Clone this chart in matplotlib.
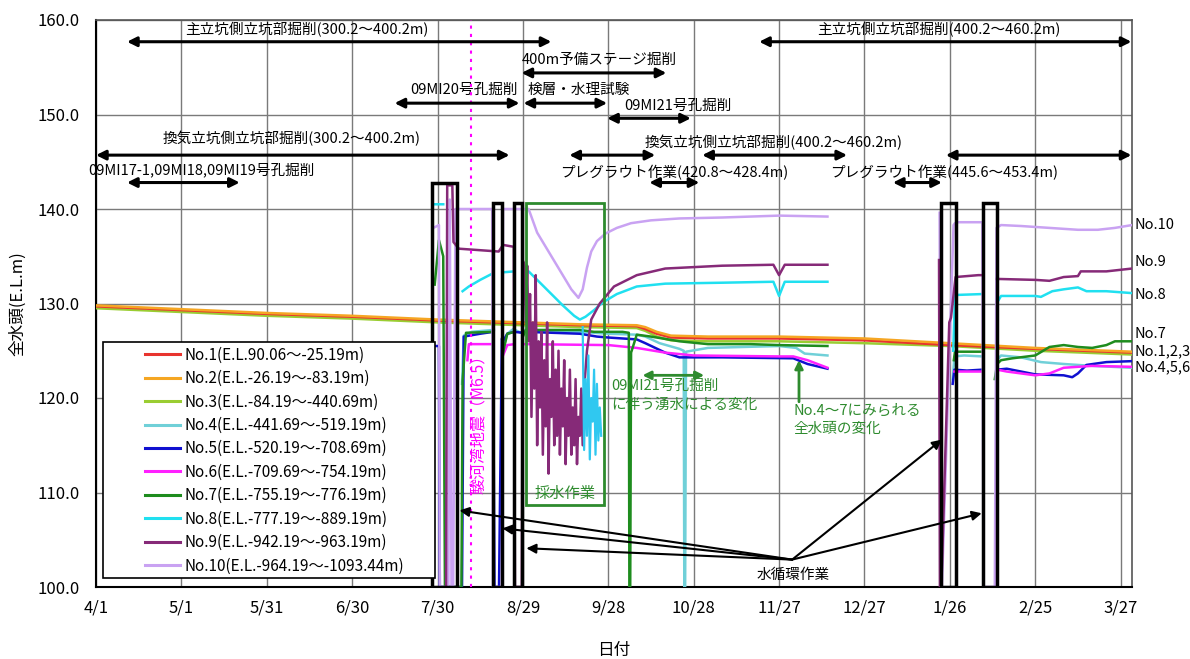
import numpy as np
import matplotlib
matplotlib.use('Agg')
import matplotlib.pyplot as plt
from matplotlib.patches import Rectangle

plt.rcParams['font.family'] = ['Noto Sans CJK JP', 'DejaVu Sans']

# ---------------- data ----------------
tick_days = [0, 30, 60, 90, 120, 150, 180, 210, 240, 270, 300, 330, 360]
tick_labels = ['4/1', '5/1', '5/31', '6/30', '7/30', '8/29', '9/28', '10/28',
               '11/27', '12/27', '1/26', '2/25', '3/27']
y_ticks = [100, 110, 120, 130, 140, 150, 160]

labels = ['No.1(E.L.90.06～-25.19m)', 'No.2(E.L.-26.19～-83.19m)',
          'No.3(E.L.-84.19～-440.69m)', 'No.4(E.L.-441.69～-519.19m)',
          'No.5(E.L.-520.19～-708.69m)', 'No.6(E.L.-709.69～-754.19m)',
          'No.7(E.L.-755.19～-776.19m)', 'No.8(E.L.-777.19～-889.19m)',
          'No.9(E.L.-942.19～-963.19m)', 'No.10(E.L.-964.19～-1093.44m)']
colors = ['#E8342E', '#F5A623', '#9ACD32', '#70D0D8', '#1010D0',
          '#FF20FF', '#1E8C1E', '#20E0F0', '#862A78', '#C9A2F2']

nan = np.nan

shallow_days = [0, 30, 60, 90, 120, 150, 170, 190, 193, 197, 202, 215, 240, 270, 300, 330, 364]
no1_vals = [129.7, 129.3, 128.9, 128.6, 128.2, 127.9, 127.7, 127.6, 127.3, 126.8, 126.4, 126.3, 126.3, 126.1, 125.6, 125.2, 124.8]
no2_vals = [129.8, 129.4, 129.0, 128.7, 128.3, 128.0, 127.8, 127.7, 127.5, 127.0, 126.6, 126.5, 126.5, 126.3, 125.8, 125.3, 124.9]
no3_vals = [129.5, 129.1, 128.7, 128.4, 128.0, 127.7, 127.5, 127.4, 127.1, 126.5, 126.1, 126.0, 126.0, 125.8, 125.5, 125.0, 124.6]

no4_days = [128.6, 129.2, 132, 139.5, 139.8, 142.6, 143.0, 144.5, 146.6, 150.0, 151.0, 170, 180, 190, 193, 198, 205, 206.5, 206.7, 207.0, 207.3, 215, 240, 246, 249, 257,
            nan, 301.0, 301.6, 305, 311.5, nan, 316.6, 318, 325, 332, 340, 350, 364]
no4_vals = [121.5, 126.6, 127.0, 127.2, 127.2, nan, 125.2, 126.8, 127.3, 126.8, 127.2, 127.0, 126.8, 126.7, 126.5, 125.8, 125.2, 125.0, 100.0, 100.0, 124.9, 125.3, 125.5, 125.3, 124.7, 124.5,
            nan, 122.0, 124.4, 124.5, 124.4, nan, 124.0, 124.5, 124.3, 123.8, 123.6, 123.4, 123.2]

no5_days = [118.0, 120.5, 120.8, 128.6, 129.2, 135, 139.5, 140.0, 141.6, 142.6, 143.0, 144.5, 147.0, 150.0, 151.0, 170, 176, 180, 190, 193, 200, 205, 220, 245, 250, 257,
            nan, 301.0, 301.6, 306, 311.5, nan, 316.6, 320, 325, 330, 340, 343, 345, 348, 355, 364]
no5_vals = [125.5, 125.5, 100.0, 100.0, 126.5, 126.8, 127.0, 100.0, 100.0, 126.3, 126.0, 126.8, 127.0, 126.9, 127.0, 126.8, 126.5, 126.4, 126.2, 125.8, 124.8, 124.3, 124.3, 124.2, 123.6, 123.1,
            nan, 121.5, 123.0, 122.9, 123.0, nan, 123.0, 123.1, 122.8, 122.5, 122.4, 122.2, 122.6, 123.5, 123.8, 123.9]

no6_days = [130.5, 131.0, 139.5, nan, 143.0, 144.5, 147.0, nan, 150.0, 180, 190, 200, 210, 240, 245, 250, 257,
            nan, 301.6, 311.5, nan, 316.6, 320, 330, 335, 340, 350, 364]
no6_vals = [124.0, 125.7, 125.7, nan, 124.5, 125.6, 125.7, nan, 125.7, 125.6, 125.3, 124.8, 124.5, 124.4, 124.4, 124.0, 123.2,
            nan, 122.8, 122.8, nan, 123.0, 122.8, 122.4, 122.6, 123.2, 123.4, 123.3]

no7_days = [119.0, 120.5, 122.0, 122.6, 128.4, 128.8, 130.0, 139.5, 139.8, 142.6, 143.0, 144.5, 147.0, 147.2, 149.6, 150.0, 151.0, 170, 175, 185, 187.2, 187.4, 187.7, 188.0, 190, 195, 205, 215, 230, 240, 257,
            nan, 301.4, 301.8, 311.5, nan, 315.8, 316.6, 318, 322, 330, 335, 340, 345, 350, 355, 358, 364]
no7_vals = [132.0, 136.7, 135.0, 100.0, 100.0, 121.8, 126.9, 127.0, nan, nan, 124.8, 126.8, 127.0, nan, nan, 126.5, 127.2, 127.2, 127.0, 127.0, 126.9, 100.0, 100.0, 124.8, 126.7, 126.5, 126.0, 125.7, 125.7, 125.6, 125.5,
            nan, 124.0, 124.9, 124.9, nan, 122.0, 123.6, 124.0, 124.2, 124.5, 125.4, 125.6, 125.4, 125.3, 125.6, 126.0, 126.0]

no8_days = [118.5, 122.0, nan, 128.8, 131, 135, 139.5, nan, 143.0, 147.0, nan, 150.0, 152, 156, 160, 164, 168, 170, 172, 175, 178, 183, 190, 200, 220, 238, 240, 242, 257,
            nan, 301.2, 301.8, 311.5, nan, 316.4, 318, 330, 332, 336, 340, 345, 348, 355, 364]
no8_vals = [140.5, 140.5, nan, 131.3, 131.8, 132.5, 133.2, nan, 133.3, 133.4, nan, 133.5, 133.4, 132.2, 131.0, 129.8, 128.7, 128.3, 128.6, 129.3, 130.1, 131.0, 131.8, 132.1, 132.2, 132.3, 130.8, 132.3, 132.3,
            nan, 125.0, 130.9, 131.0, nan, 130.0, 130.8, 130.8, 130.7, 131.3, 131.5, 131.7, 131.3, 131.3, 131.1]

no8_pump_days = [171.0, 171.5, 172.0, 172.5, 173.0, 173.5, 174.0, 174.5, 175.0, 175.5, 176.0, 176.5, 177.0, 177.5]
no8_pump_vals = [127.5, 114.5, 122.0, 116.0, 124.5, 113.5, 120.0, 117.5, 123.0, 114.0, 121.5, 115.5, 119.0, 116.0]

no9_days = [123.0, 123.4, 125.2, 125.6, 127.5, 141.5, 143.0, 146.8, 147.2, 149.6, 150.0, 150.6,
            151.0, 151.5, 152.0, 152.5, 153.0, 153.5, 154.0, 154.5, 155.0, 155.5, 156.0, 156.5, 157.0, 157.5,
            158.0, 158.5, 159.0, 159.5, 160.0, 160.5, 161.0, 161.5, 162.0, 162.5, 163.0, 163.5, 164.0, 164.5,
            165.0, 165.5, 166.0, 166.5, 167.0, 167.5, 168.0, 168.5, 169.0, 169.5, 170.0, 170.5, 171.0,
            171.5, 172.5, 174, 177, 182, 190, 200, 220, 238, 240, 242, 257,
            nan, 296.2, 296.5, 297.0, 299.8, 300.4, 302.0, 310, 311.5, nan, 316.6, 330, 335, 340, 345, 346, 355, 364]
no9_vals = [100.0, 142.5, 142.5, 136.5, 135.8, 135.5, 136.2, 136.0, 100.0, 100.0, 134.5, 134.0,
            128.0, 134.0, 126.0, 131.0, 118.0, 128.0, 121.0, 133.0, 115.0, 126.0, 119.0, 127.0, 114.0, 124.0,
            117.0, 128.0, 112.0, 122.0, 118.0, 126.0, 115.0, 123.0, 116.0, 125.0, 114.0, 121.0, 117.0, 124.0,
            113.0, 120.0, 116.0, 123.0, 114.0, 119.0, 115.0, 122.0, 113.0, 118.0, 116.0, 121.0, 115.0,
            121.0, 125.0, 128.3, 130.0, 131.8, 133.0, 133.7, 134.0, 134.1, 133.0, 134.1, 134.1,
            nan, 134.6, 100.0, 100.0, 128.0, 128.5, 132.8, 133.0, 133.0, nan, 132.6, 132.5, 132.4, 132.8, 132.9, 133.4, 133.4, 133.7]

no10_days = [118.5, 120.5, 120.8, 123.8, 124.3, 124.9, 125.5, 126.3, 139.2, 139.5, 142.6, 143.0, 150.5, 152.0, 155, 158, 161, 164, 167, 169.5, 171, 172.5, 174, 176, 179, 183, 188, 195, 205, 220, 240, 257,
             nan, 296.4, 296.8, 297.2, 301.3, 301.8, 303, 311.4, 311.8, 315.8, 316.4, 318, 325, 335, 345, 352, 358, 364]
no10_vals = [138.0, 138.3, 100.0, 100.0, 141.0, 100.0, 100.0, 140.0, 140.0, 100.0, 100.0, 140.0, 140.0, 140.0, 137.5, 136.0, 134.5, 133.0, 131.5, 130.6, 131.5, 133.8, 135.5, 136.6, 137.4, 138.0, 138.5, 138.8, 139.0, 139.1, 139.3, 139.2,
             nan, 139.6, 100.0, 100.0, 138.3, 138.5, 138.6, 138.6, 100.0, 100.0, 138.0, 138.3, 138.2, 138.0, 137.8, 137.8, 138.0, 138.3]

# ---------------- figure ----------------
fig = plt.figure(figsize=(11.9, 6.59), dpi=100)
ax = fig.add_axes([96/1190, 1 - 587/659, (1132-96)/1190, (587-20)/659])

ax.set_xlim(0, 364)
ax.set_ylim(100, 160)
ax.set_xticks(tick_days)
ax.set_xticklabels(tick_labels, fontsize=12)
ax.set_yticks(y_ticks)
ax.set_yticklabels([f'{v:.1f}' for v in y_ticks], fontsize=12)
ax.tick_params(length=0, pad=12, axis='y')
ax.tick_params(length=0, pad=9, axis='x')
ax.grid(True, color='#7a7a7a', lw=1.0)
ax.set_axisbelow(True)
for s in ax.spines.values():
    s.set_color('#555555')
    s.set_linewidth(1.2)
ax.spines['left'].set_color('black')
ax.spines['bottom'].set_color('black')
ax.spines['left'].set_linewidth(1.5)
ax.spines['bottom'].set_linewidth(1.5)

ax.set_ylabel('全水頭(E.L.m)', fontsize=12, labelpad=8)
ax.set_xlabel('日付', fontsize=12, labelpad=18)

series = [
    (no3_vals, shallow_days, 2),
    (no1_vals, shallow_days, 0),
    (no2_vals, shallow_days, 1),
]
lines = {}
for vals, days, i in series:
    lines[i], = ax.plot(days, vals, color=colors[i], lw=1.8, zorder=3)

deep = [(no4_days, no4_vals, 3), (no5_days, no5_vals, 4), (no6_days, no6_vals, 5),
        (no7_days, no7_vals, 6), (no8_days, no8_vals, 7), (no10_days, no10_vals, 9),
        (no9_days, no9_vals, 8)]
for days, vals, i in deep:
    lines[i], = ax.plot(days, vals, color=colors[i], lw=1.8, zorder=3)
ax.plot(no8_pump_days, no8_pump_vals, color='#30C8F0', lw=1.6, zorder=3)

# earthquake line
ax.axvline(131.9, color='#FF00FF', lw=1.5, ls=(0, (1.5, 2.5)), zorder=4)
ax.text(134.8, 117.6, '駿河湾地震（M6.5）', rotation=90, color='#FF00FF',
        fontsize=11.5, ha='center', va='center', zorder=5)

# water circulation boxes
boxes = [(117.9, 127.0, 142.7), (139.6, 142.5, 140.6), (146.7, 149.6, 140.6),
         (296.8, 302.0, 140.6), (311.6, 316.5, 140.6)]
for x0, x1, top in boxes:
    ax.add_patch(Rectangle((x0, 100), x1 - x0, top - 100, fill=False,
                           edgecolor='black', lw=2.5, zorder=6))

# sampling box
green = '#2E8B2E'
ax.add_patch(Rectangle((151.2, 108.7), 178.6 - 151.2, 140.6 - 108.7, fill=False,
                       edgecolor=green, lw=2, zorder=6))
ax.text(164.9, 109.9, '採水作業', color=green, fontsize=11, ha='center', va='center', zorder=7)

# ---------------- top annotations ----------------
def darrow(x1, x2, y):
    ax.annotate('', xy=(x2, y), xytext=(x1, y), annotation_clip=False,
                arrowprops=dict(arrowstyle='<|-|>', lw=2.2, color='black',
                                mutation_scale=14, shrinkA=0, shrinkB=0), zorder=7)

fs = 10.5
darrow(10.9, 160.0, 157.7)
ax.text(74, 159.0, '主立坑側立坑部掘削(300.2～400.2m)', fontsize=fs, ha='center', va='center')
darrow(149.5, 200.4, 154.4)
ax.text(149.5, 155.8, '400m予備ステージ掘削', fontsize=fs, ha='left', va='center')
darrow(104.9, 148.8, 151.2)
ax.text(148.3, 152.6, '09MI20号孔掘削', fontsize=fs, ha='right', va='center')
darrow(150.2, 179.6, 151.2)
ax.text(151.8, 152.6, '検層・水理試験', fontsize=fs, ha='left', va='center')
darrow(179.6, 209.0, 149.6)
ax.text(185.6, 150.9, '09MI21号孔掘削', fontsize=fs, ha='left', va='center')
darrow(233.0, 363.8, 157.7)
ax.text(296, 159.0, '主立坑側立坑部掘削(400.2～460.2m)', fontsize=fs, ha='center', va='center')
darrow(0.0, 145.3, 145.7)
ax.text(68.8, 147.5, '換気立坑側立坑部掘削(300.2～400.2m)', fontsize=fs, ha='center', va='center')
darrow(10.9, 50.5, 142.8)
ax.text(37.2, 144.1, '09MI17-1,09MI18,09MI19号孔掘削', fontsize=fs, ha='center', va='center')
darrow(166.3, 196.5, 145.7)
darrow(213.0, 263.9, 145.7)
darrow(298.6, 363.8, 145.7)
ax.text(238, 147.0, '換気立坑側立坑部掘削(400.2～460.2m)', fontsize=fs, ha='center', va='center')
darrow(194.4, 212.0, 142.8)
ax.text(203, 143.9, 'プレグラウト作業(420.8～428.4m)', fontsize=fs, ha='center', va='center')
darrow(280.0, 297.2, 142.8)
ax.text(298, 143.9, 'プレグラウト作業(445.6～453.4m)', fontsize=fs, ha='center', va='center')

# ---------------- green notes ----------------
ax.annotate('', xy=(213.7, 122.4), xytext=(192.0, 122.4),
            arrowprops=dict(arrowstyle='<|-|>', lw=2, color=green, mutation_scale=12,
                            shrinkA=0, shrinkB=0), zorder=7)
ax.text(181.0, 120.3, '09MI21号孔掘削\nに伴う湧水による変化', color=green, fontsize=fs,
        ha='left', va='center', linespacing=1.5, zorder=7)
ax.annotate('', xy=(247.0, 124.0), xytext=(247.0, 119.6),
            arrowprops=dict(arrowstyle='-|>', lw=2, color=green, mutation_scale=12,
                            shrinkA=0, shrinkB=0), zorder=7)
ax.text(245.0, 117.7, 'No.4～7にみられる\n全水頭の変化', color=green, fontsize=fs,
        ha='left', va='center', linespacing=1.4, zorder=7)

# ---------------- water circulation arrows ----------------
origin = (244.6, 102.9)
targets = [(127.7, 108.1), (142.8, 106.2), (151.2, 104.1), (297.2, 115.6), (311.2, 107.8)]
for tx, ty in targets:
    ax.annotate('', xy=(tx, ty), xytext=origin,
                arrowprops=dict(arrowstyle='-|>', lw=1.5, color='black', mutation_scale=14,
                                shrinkA=0, shrinkB=0), zorder=7)
ax.text(245.0, 101.3, '水循環作業', fontsize=fs, ha='center', va='center', zorder=7)

# ---------------- right labels ----------------
right_labels = [('No.10', 138.3), ('No.9', 134.4), ('No.8', 130.9),
                ('No.7', 126.8), ('No.1,2,3', 124.9), ('No.4,5,6', 123.3)]
for txt, yv in right_labels:
    ax.text(365.0, yv, txt, fontsize=10.5, ha='left', va='center', clip_on=False)

# ---------------- legend ----------------
ax.add_patch(Rectangle((0.0068, 0.016), 0.327 - 0.0068, 0.432 - 0.016, transform=ax.transAxes,
                       facecolor='white', edgecolor='black', lw=1.2, zorder=8))
handles = [lines[i] for i in range(10)]
leg = ax.legend(handles, labels, loc='upper left', bbox_to_anchor=(0.043, 0.432),
                frameon=False, fontsize=11, handlelength=2.3, handletextpad=0.3,
                labelspacing=0.42, borderpad=0.3, borderaxespad=0)
leg.set_zorder(9)
for l in leg.get_lines():
    l.set_linewidth(2.2)

fig.savefig('out.png', dpi=100)
